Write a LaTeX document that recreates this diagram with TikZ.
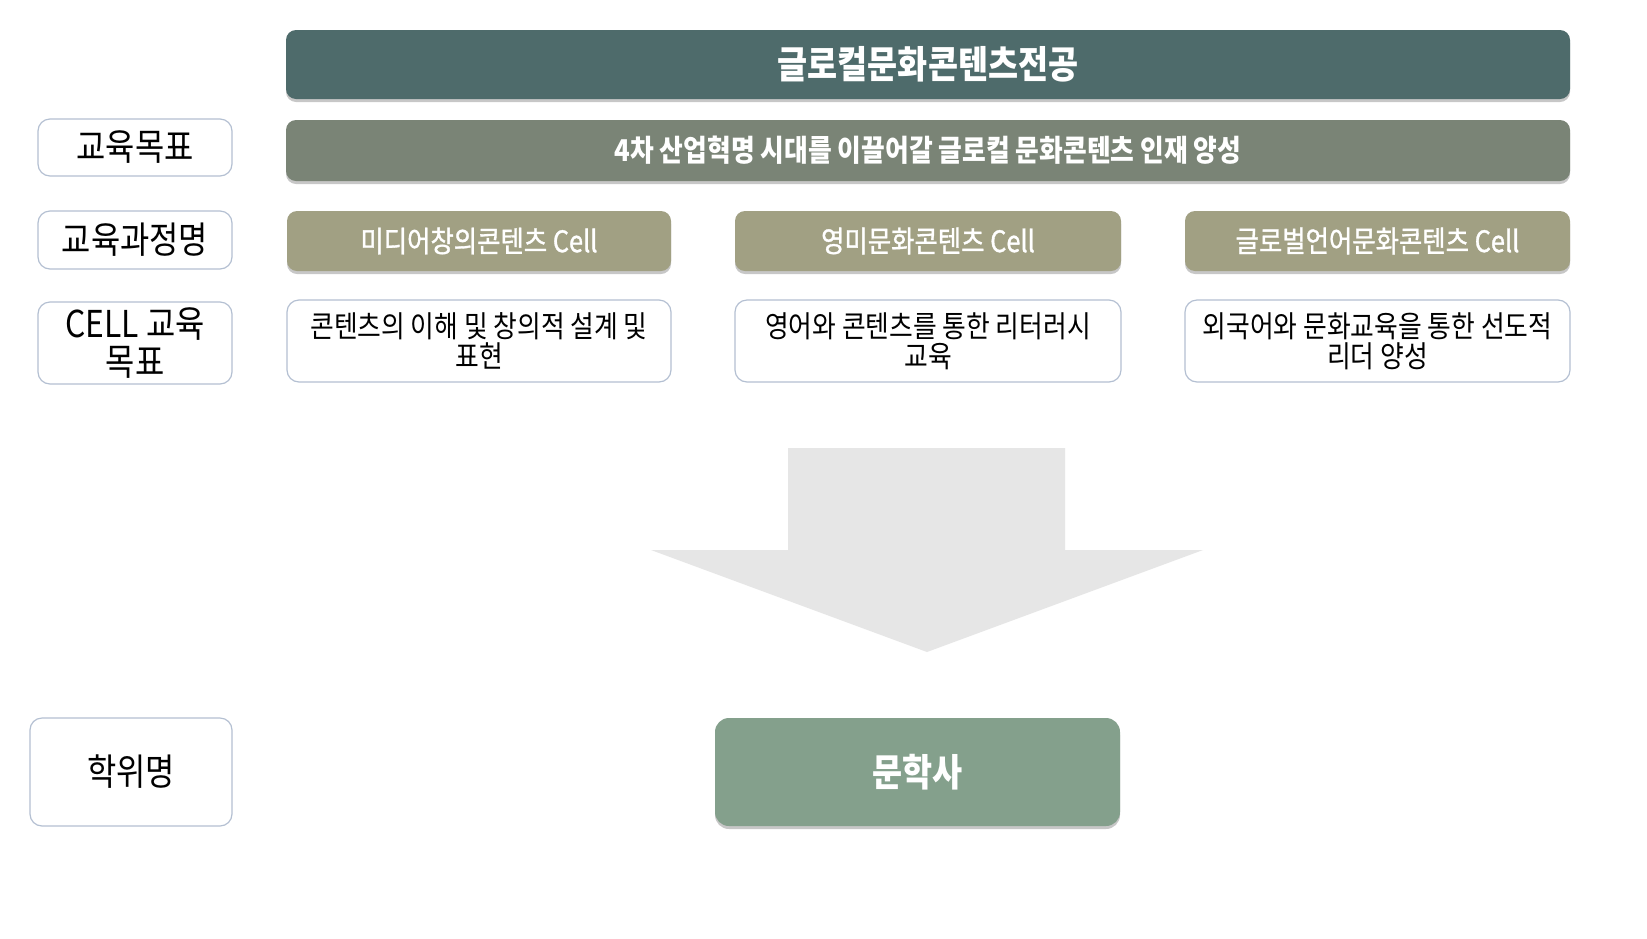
\documentclass[tikz,border=0pt]{standalone}
\usepackage{fontspec}
\setmainfont{Noto Sans CJK KR}[FakeStretch=0.86]
\newfontfamily\medfont{Noto Sans CJK KR}[FakeStretch=0.86, FakeBold=1.2]
\usetikzlibrary{shadows}
\definecolor{titlec}{HTML}{4E6B6B}
\definecolor{goalc}{HTML}{7A8476}
\definecolor{cellc}{HTML}{A1A083}
\definecolor{degc}{HTML}{84A08C}
\definecolor{arrowc}{HTML}{E6E6E6}
\definecolor{edgec}{HTML}{B4C0D2}
\tikzset{
  shadowed/.style={drop shadow={shadow xshift=0pt, shadow yshift=-3pt, opacity=0.22, fill=black}},
  colbox/.style={rectangle, rounded corners=10pt, inner sep=0pt, text=white, align=center, shadowed},
  cellbox/.style={colbox, fill=cellc, minimum height=60pt, font=\medfont\fontsize{29.5}{34}\selectfont},
  linebox/.style={rectangle, rounded corners=12pt, inner sep=0pt, draw=edgec, line width=1.2pt, fill=white, align=center, text=black},
  descbox/.style={linebox, minimum height=82pt, font=\fontsize{30}{30}\selectfont},
  labelbox/.style={linebox, minimum width=194pt, font=\fontsize{37}{40}\selectfont},
}
\begin{document}
\begin{tikzpicture}[x=1pt,y=-1pt]
\useasboundingbox[fill=white] (0,0) rectangle (1647,938);
% top bars
\node[colbox, fill=titlec, minimum width=1284pt, minimum height=69pt, font=\fontsize{38}{44}\selectfont\bfseries] (title) at (928,64.5) {글로컬문화콘텐츠전공};
\node[colbox, fill=goalc, minimum width=1284pt, minimum height=61pt, font=\fontsize{30}{34}\selectfont\bfseries] (goal) at (928,150.5) {4차 산업혁명 시대를 이끌어갈 글로컬 문화콘텐츠 인재 양성};
% cell headers
\node[cellbox, minimum width=384pt] (c1) at (479,241) {미디어창의콘텐츠 Cell};
\node[cellbox, minimum width=386pt] (c2) at (928,241) {영미문화콘텐츠 Cell};
\node[cellbox, minimum width=385pt] (c3) at (1377.5,241) {글로벌언어문화콘텐츠 Cell};
% cell descriptions
\node[descbox, minimum width=384pt] (d1) at (479,341) {콘텐츠의 이해 및 창의적 설계 및\\표현};
\node[descbox, minimum width=386pt] (d2) at (928,341) {영어와 콘텐츠를 통한 리터러시\\교육};
\node[descbox, minimum width=385pt] (d3) at (1377.5,341) {외국어와 문화교육을 통한 선도적\\리더 양성};
% left labels
\node[labelbox, minimum height=57pt] (l1) at (135,147.5) {교육목표};
\node[labelbox, minimum height=58pt] (l2) at (135,240) {교육과정명};
\node[labelbox, minimum height=82pt, font=\fontsize{37}{38}\selectfont] (l3) at (135,343) {CELL 교육\\목표};
\node[labelbox, minimum width=202pt, minimum height=108pt] (l4) at (131,772) {학위명};
% arrow
\fill[arrowc] (788,448) -- (1065,448) -- (1065,550) -- (1203,550) -- (927,652) -- (651,550) -- (788,550) -- cycle;
% degree
\node[colbox, fill=degc, minimum width=405pt, minimum height=108pt, rounded corners=14pt, font=\fontsize{38}{42}\selectfont\bfseries] (deg) at (917.5,772) {문학사};
\end{tikzpicture}
\end{document}
